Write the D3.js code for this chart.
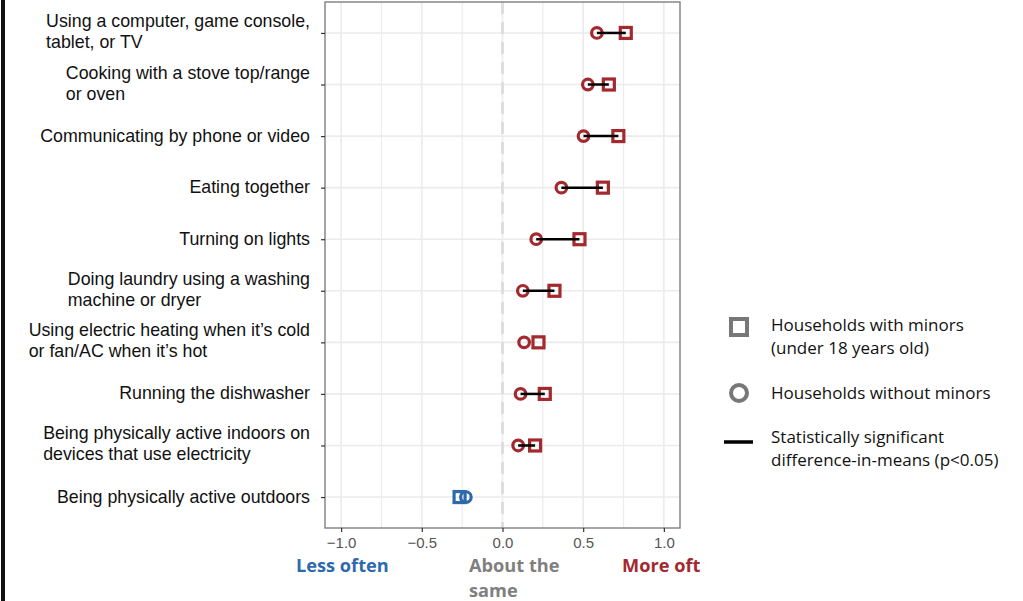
<!DOCTYPE html>
<html>
<head>
<meta charset="utf-8">
<script src="https://cdn.jsdelivr.net/npm/d3@7"></script>
<style>
  html, body { margin: 0; padding: 0; background: #fff; }
  svg { display: block; }
</style>
</head>
<body>
<svg id="chart" width="1023" height="601"></svg>
<script>
// Activities, top to bottom; "\n" marks a line break in the axis label
const categories = [
  "Using a computer, game console,\ntablet, or TV",
  "Cooking with a stove top/range\nor oven",
  "Communicating by phone or video",
  "Eating together",
  "Turning on lights",
  "Doing laundry using a washing\nmachine or dryer",
  "Using electric heating when it\u2019s cold\nor fan/AC when it\u2019s hot",
  "Running the dishwasher",
  "Being physically active indoors on\ndevices that use electricity",
  "Being physically active outdoors"
];
// Mean change in frequency for households with minors (squares)
const withMinors    = [0.764, 0.659, 0.718, 0.622, 0.477, 0.322, 0.223, 0.262, 0.202, -0.266];
// Mean change in frequency for households without minors (circles)
const withoutMinors = [0.585, 0.529, 0.502, 0.365, 0.209, 0.126, 0.134, 0.112, 0.097, -0.227];
// Whether the difference-in-means is significant (p<0.05)
const significant   = [true, true, true, true, true, true, false, true, true, false];
// Axis ticks and scale annotations
const xTicks = [-1.0, -0.5, 0.0, 0.5, 1.0];
const xMinorTicks = [-0.75, -0.25, 0.25, 0.75];
const scaleNotes = ["Less often", "About the\nsame", "More often"];

const RED = "#a3292e", BLUE = "#2e69ad";

const svg = d3.select("#chart");
svg.append("rect").attr("width", 1023).attr("height", 601).attr("fill", "#fff");

// black rule on the left edge
svg.append("rect").attr("x", 1).attr("y", 0).attr("width", 4).attr("height", 601).attr("fill", "#111");

const panel = { left: 325, right: 680, top: 2, bottom: 528 };

const x = d3.scaleLinear().domain([-1.1, 1.1]).range([panel.left, panel.right]);
const y = d3.scalePoint().domain(categories).range([panel.top, panel.bottom]).padding(0.6);

const rows = categories.map((c, i) => ({
  cat: c, a: withMinors[i], b: withoutMinors[i], sig: significant[i]
}));

// grid
const g = svg.append("g");
g.selectAll("line.vminor").data(xMinorTicks).join("line")
  .attr("x1", d => x(d)).attr("x2", d => x(d))
  .attr("y1", panel.top).attr("y2", panel.bottom)
  .attr("stroke", "#ececec").attr("stroke-width", 1.2);
g.selectAll("line.vmajor").data(xTicks).join("line")
  .attr("x1", d => x(d)).attr("x2", d => x(d))
  .attr("y1", panel.top).attr("y2", panel.bottom)
  .attr("stroke", "#ebebeb").attr("stroke-width", 1.6);
g.selectAll("line.h").data(categories).join("line")
  .attr("x1", panel.left).attr("x2", panel.right)
  .attr("y1", d => y(d)).attr("y2", d => y(d))
  .attr("stroke", "#ebebeb").attr("stroke-width", 1.6);

// reference line at zero
g.append("line")
  .attr("x1", x(0)).attr("x2", x(0))
  .attr("y1", panel.top).attr("y2", panel.bottom)
  .attr("stroke", "#dedede").attr("stroke-width", 3)
  .attr("stroke-dasharray", "12,8");

// panel border
g.append("rect")
  .attr("x", panel.left).attr("y", panel.top)
  .attr("width", panel.right - panel.left).attr("height", panel.bottom - panel.top)
  .attr("fill", "none").attr("stroke", "#7f7f7f").attr("stroke-width", 1.4);

// x axis
const xAxis = d3.axisBottom(x).tickValues(xTicks).tickSize(4).tickPadding(5)
  .tickFormat(d => d3.format(".1f")(d).replace("-", "\u2212"));
const xa = svg.append("g").attr("transform", `translate(0,${panel.bottom})`).call(xAxis);
xa.select(".domain").remove();
xa.selectAll(".tick line").attr("stroke", "#333").attr("stroke-width", 1.2);
xa.selectAll(".tick text").attr("fill", "#555")
  .style("font-family", "'Liberation Sans', Arial, sans-serif").style("font-size", "15px");

// y axis (ticks only; labels drawn as left-aligned blocks)
const yAxis = d3.axisLeft(y).tickSize(4).tickFormat("");
const ya = svg.append("g").attr("transform", `translate(${panel.left},0)`).call(yAxis);
ya.select(".domain").remove();
ya.selectAll(".tick line").attr("stroke", "#333").attr("stroke-width", 1.2);

const labelRight = 310;
categories.forEach(c => {
  const lines = c.split("\n");
  const t = svg.append("text")
    .style("font-family", "'Liberation Sans', Arial, sans-serif")
    .style("font-size", "17.8px").attr("fill", "#111");
  const base = lines.length === 1 ? y(c) + 5.5 : y(c) - 6;
  lines.forEach((ln, k) => {
    t.append("tspan").attr("x", 0).attr("y", base + k * 21).text(ln);
  });
  const w = d3.max(t.selectAll("tspan").nodes(), n => n.getComputedTextLength());
  t.selectAll("tspan").attr("x", labelRight - w);
});

// marks
const m = svg.append("g");
m.selectAll("rect.sq").data(rows).join("rect")
  .attr("x", d => x(d.a) - 5.5).attr("y", d => y(d.cat) - 5.5)
  .attr("width", 11).attr("height", 11)
  .attr("fill", "none").attr("stroke", d => d.a < 0 ? BLUE : RED).attr("stroke-width", 3.2);
m.selectAll("circle.ci").data(rows).join("circle")
  .attr("cx", d => x(d.b)).attr("cy", d => y(d.cat)).attr("r", 5.3)
  .attr("fill", "none").attr("stroke", d => d.b < 0 ? BLUE : RED).attr("stroke-width", 3.2);
m.selectAll("line.seg").data(rows.filter(d => d.sig)).join("line")
  .attr("x1", d => x(d.b)).attr("x2", d => x(d.a))
  .attr("y1", d => y(d.cat)).attr("y2", d => y(d.cat))
  .attr("stroke", "#000").attr("stroke-width", 2.5);

// scale annotations under the axis
const noteFont = "'Open Sans', 'Noto Sans', sans-serif";
svg.append("clipPath").attr("id", "noteClip")
  .append("rect").attr("x", 0).attr("y", 0).attr("width", 700).attr("height", 601);
const notes = svg.append("g").attr("clip-path", "url(#noteClip)")
  .style("font-family", noteFont).style("font-weight", "700").style("font-size", "18.2px");
notes.append("text").attr("x", 296).attr("y", 572).attr("fill", "#2e69ad").text(scaleNotes[0]);
const about = notes.append("text").attr("fill", "#7f7f7f");
scaleNotes[1].split("\n").forEach((ln, k) => {
  about.append("tspan").attr("x", 469).attr("y", 572 + k * 25).text(ln);
});
notes.append("text").attr("x", 622).attr("y", 572).attr("fill", RED).text(scaleNotes[2]);

// legend
const legendFont = "'Open Sans', 'Noto Sans', sans-serif";
const lg = svg.append("g").style("font-family", legendFont).style("font-size", "17px").attr("fill", "#111");
lg.append("rect").attr("x", 731).attr("y", 319).attr("width", 16).attr("height", 16)
  .attr("fill", "none").attr("stroke", "#777").attr("stroke-width", 4);
lg.append("circle").attr("cx", 739).attr("cy", 393).attr("r", 8)
  .attr("fill", "none").attr("stroke", "#777").attr("stroke-width", 4);
lg.append("line").attr("x1", 724).attr("x2", 753).attr("y1", 442).attr("y2", 442)
  .attr("stroke", "#000").attr("stroke-width", 3.5);
const legendText = [
  ["Households with minors", "(under 18 years old)"],
  ["Households without minors"],
  ["Statistically significant", "difference-in-means (p<0.05)"]
];
const legendBase = [331, 399, 443];
legendText.forEach((lines, i) => {
  const t = lg.append("text");
  lines.forEach((ln, k) => t.append("tspan").attr("x", 771).attr("y", legendBase[i] + k * 23).text(ln));
});
</script>
</body>
</html>
